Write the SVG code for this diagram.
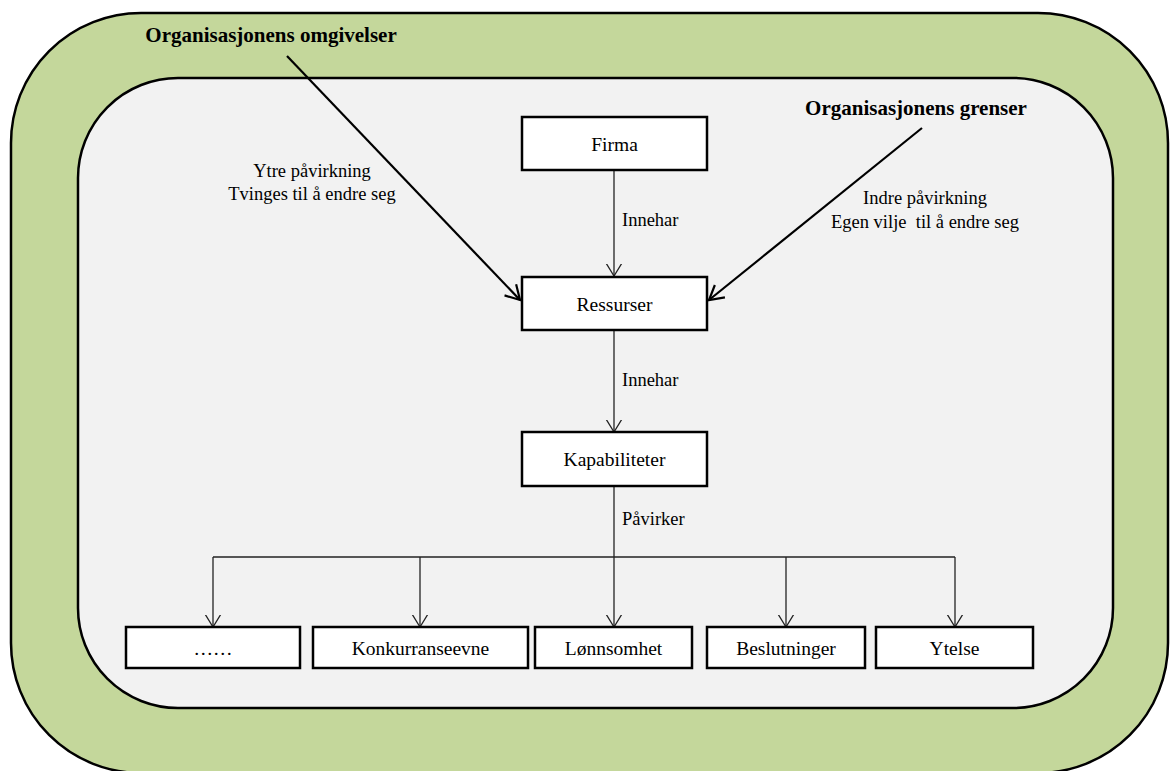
<svg xmlns="http://www.w3.org/2000/svg" width="1170" height="771" viewBox="0 0 1170 771">
  <style>
    .frame { stroke: #000; stroke-width: 2.5; }
    .box { fill: #fff; stroke: #000; stroke-width: 2.5; }
    .lbl { font-family: "Liberation Serif", "Times New Roman", serif; font-size: 19.5px; fill: #000; text-anchor: middle; }
    .note { font-family: "Liberation Serif", "Times New Roman", serif; font-size: 18.5px; fill: #000; }
    .title { font-family: "Liberation Serif", "Times New Roman", serif; font-size: 21px; font-weight: bold; fill: #000; text-anchor: middle; }
    .thin { fill: none; stroke: #222; stroke-width: 1.3; }
    .thick { fill: none; stroke: #000; stroke-width: 2.2; }
  </style>
  <defs>
    <marker id="vee" markerUnits="userSpaceOnUse" markerWidth="24" markerHeight="24" viewBox="-12 -12 24 24" refX="0" refY="0" orient="auto">
      <path d="M-13,-8 L0,0 L-13,8" fill="none" stroke="#222" stroke-width="1.3"/>
    </marker>
    <marker id="veeBold" markerUnits="userSpaceOnUse" markerWidth="30" markerHeight="30" viewBox="-15 -15 30 30" refX="0" refY="0" orient="auto">
      <path d="M-14,-8 L0,0 L-14,8" fill="none" stroke="#000" stroke-width="2.2"/>
    </marker>
  </defs>

  <!-- environment and boundary -->
  <g id="environment">
    <rect class="frame" x="11" y="13" width="1157" height="760" rx="130" ry="130" fill="#c4d79b"/>
  </g>
  <g id="boundary">
    <rect class="frame" x="78" y="78" width="1035" height="630" rx="100" ry="100" fill="#f2f2f2"/>
  </g>

  <!-- connectors -->
  <g id="connectors">
    <line class="thin" x1="614" y1="170" x2="614" y2="276" marker-end="url(#vee)"/>
    <line class="thin" x1="614" y1="330" x2="614" y2="432" marker-end="url(#vee)"/>
    <polyline class="thin" points="614,486 614,557"/>
    <line class="thin" x1="213" y1="557" x2="955" y2="557"/>
    <line class="thin" x1="213" y1="557" x2="213" y2="627" marker-end="url(#vee)"/>
    <line class="thin" x1="420" y1="557" x2="420" y2="627" marker-end="url(#vee)"/>
    <line class="thin" x1="614" y1="557" x2="614" y2="627" marker-end="url(#vee)"/>
    <line class="thin" x1="786" y1="557" x2="786" y2="627" marker-end="url(#vee)"/>
    <line class="thin" x1="955" y1="557" x2="955" y2="627" marker-end="url(#vee)"/>
    <line class="thick" x1="287" y1="56" x2="520" y2="300" marker-end="url(#veeBold)"/>
    <line class="thick" x1="922" y1="128" x2="709" y2="300" marker-end="url(#veeBold)"/>
  </g>

  <!-- connector labels -->
  <g id="edge-labels">
    <text class="note" x="622" y="226">Innehar</text>
    <text class="note" x="622" y="386">Innehar</text>
    <text class="note" x="622" y="525">Påvirker</text>
    <text class="note" x="312" y="177" text-anchor="middle">Ytre påvirkning</text>
    <text class="note" x="312" y="200" text-anchor="middle">Tvinges til å endre seg</text>
    <text class="note" x="925" y="204" text-anchor="middle">Indre påvirkning</text>
    <text class="note" x="925" y="228" text-anchor="middle" xml:space="preserve">Egen vilje  til å endre seg</text>
  </g>

  <g id="title-environment">
    <text class="title" x="271" y="42">Organisasjonens omgivelser</text>
  </g>
  <g id="title-boundary">
    <text class="title" x="916" y="115">Organisasjonens grenser</text>
  </g>

  <!-- nodes -->
  <g id="node-firma">
    <rect class="box" x="522" y="117" width="185" height="53"/>
    <text class="lbl" x="614.5" y="151">Firma</text>
  </g>
  <g id="node-ressurser">
    <rect class="box" x="522" y="277" width="185" height="53"/>
    <text class="lbl" x="614.5" y="311">Ressurser</text>
  </g>
  <g id="node-kapabiliteter">
    <rect class="box" x="522" y="432" width="185" height="54"/>
    <text class="lbl" x="614.5" y="466">Kapabiliteter</text>
  </g>
  <g id="node-more">
    <rect class="box" x="126" y="627" width="174" height="41"/>
    <text class="lbl" x="213" y="655">……</text>
  </g>
  <g id="node-konkurranseevne">
    <rect class="box" x="313" y="627" width="215" height="41"/>
    <text class="lbl" x="420.5" y="655">Konkurranseevne</text>
  </g>
  <g id="node-lonnsomhet">
    <rect class="box" x="535" y="627" width="157" height="41"/>
    <text class="lbl" x="613.5" y="655">Lønnsomhet</text>
  </g>
  <g id="node-beslutninger">
    <rect class="box" x="707" y="627" width="158" height="41"/>
    <text class="lbl" x="786" y="655">Beslutninger</text>
  </g>
  <g id="node-ytelse">
    <rect class="box" x="876" y="627" width="157" height="41"/>
    <text class="lbl" x="954.5" y="655">Ytelse</text>
  </g>
</svg>
